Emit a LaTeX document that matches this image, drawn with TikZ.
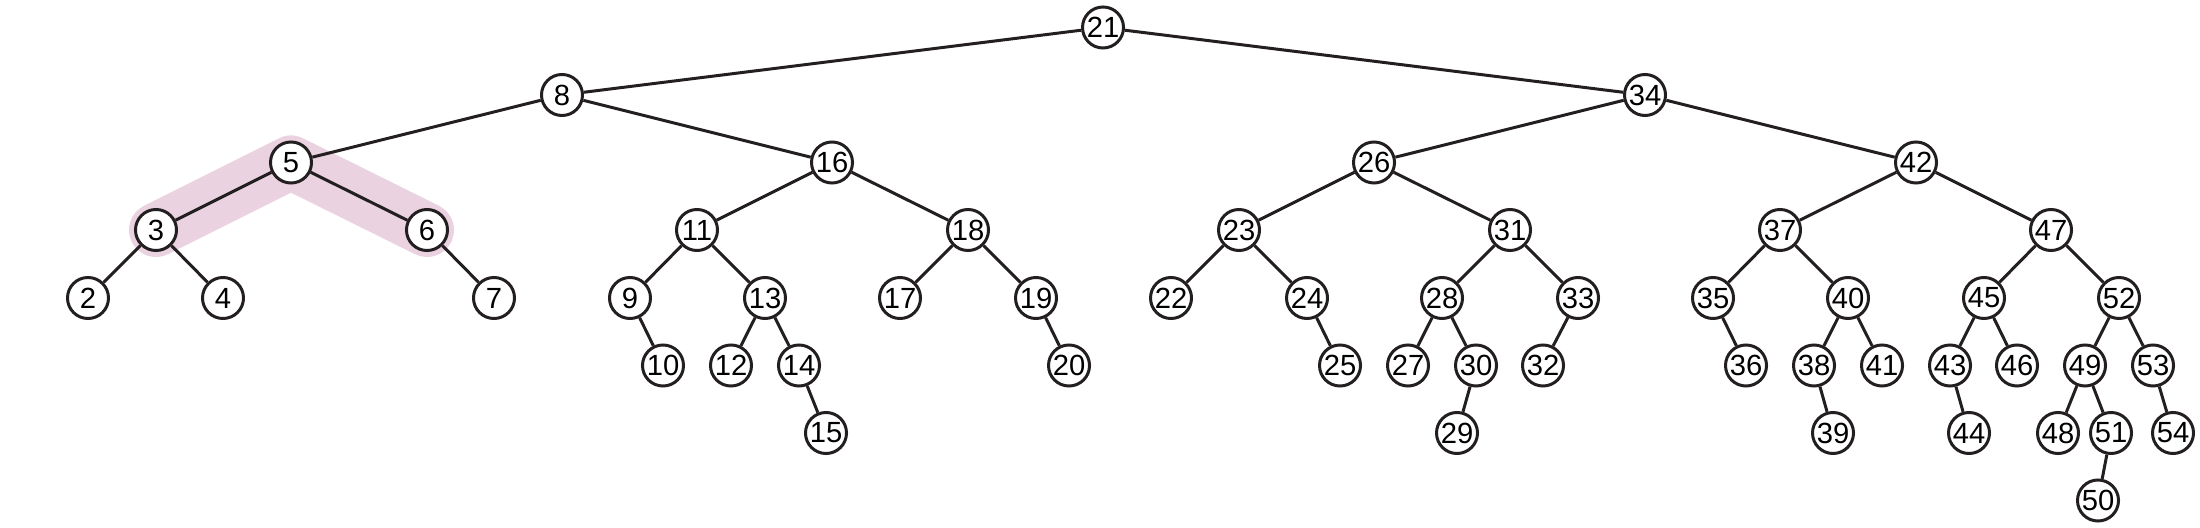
\documentclass[tikz,border=0pt]{standalone}
\usepackage{fontspec}
\setmainfont{Liberation Sans}
\usetikzlibrary{backgrounds}
\definecolor{ink}{RGB}{35,31,32}
\definecolor{blush}{RGB}{234,210,224}

\begin{document}
\begin{tikzpicture}[x=0.01cm, y=-0.01cm,
  key/.style={circle, draw=ink, line width=0.85pt, fill=white, minimum size=0.41cm, inner sep=0pt, font=\fontsize{8.3}{8.3}\selectfont},
  link/.style={draw=ink, line width=0.85pt},
  trail/.style={draw=blush, line width=0.54cm, line cap=round, line join=round}]
  \useasboundingbox (0,0) rectangle (2200,528);

  \node[key] (n21) at (1103,27.5) {21};

  \node[key] (n8)  at (562,95) {8};
  \node[key] (n34) at (1645,95) {34};

  \node[key] (n5)  at (291,162.5) {5};
  \node[key] (n16) at (832,162.5) {16};
  \node[key] (n26) at (1374,162.5) {26};
  \node[key] (n42) at (1916,162.5) {42};

  \node[key] (n3)  at (156,230) {3};
  \node[key] (n6)  at (427,230) {6};
  \node[key] (n11) at (697,230) {11};
  \node[key] (n18) at (968,230) {18};
  \node[key] (n23) at (1239,230) {23};
  \node[key] (n31) at (1510,230) {31};
  \node[key] (n37) at (1780,230) {37};
  \node[key] (n47) at (2051,230) {47};

  \node[key] (n2)  at (88,298) {2};
  \node[key] (n4)  at (223,298) {4};
  \node[key] (n7)  at (494,298) {7};
  \node[key] (n9)  at (630,298) {9};
  \node[key] (n13) at (765,298) {13};
  \node[key] (n17) at (900,298) {17};
  \node[key] (n19) at (1036,298) {19};
  \node[key] (n22) at (1171,298) {22};
  \node[key] (n24) at (1307,298) {24};
  \node[key] (n28) at (1442,298) {28};
  \node[key] (n33) at (1578,298) {33};
  \node[key] (n35) at (1713,298) {35};
  \node[key] (n40) at (1848,298) {40};
  \node[key] (n45) at (1984,298) {45};
  \node[key] (n52) at (2119,298) {52};

  \node[key] (n10) at (663,365.5) {10};
  \node[key] (n12) at (731,365.5) {12};
  \node[key] (n14) at (799,365.5) {14};
  \node[key] (n20) at (1069,365.5) {20};
  \node[key] (n25) at (1340,365.5) {25};
  \node[key] (n27) at (1408,365.5) {27};
  \node[key] (n30) at (1476,365.5) {30};
  \node[key] (n32) at (1543,365.5) {32};
  \node[key] (n36) at (1746,365.5) {36};
  \node[key] (n38) at (1814,365.5) {38};
  \node[key] (n41) at (1882,365.5) {41};
  \node[key] (n43) at (1950,365.5) {43};
  \node[key] (n46) at (2017,365.5) {46};
  \node[key] (n49) at (2085,365.5) {49};
  \node[key] (n53) at (2153,365.5) {53};

  \node[key] (n15) at (826,433) {15};
  \node[key] (n29) at (1457,433) {29};
  \node[key] (n39) at (1833,433) {39};
  \node[key] (n44) at (1969,433) {44};
  \node[key] (n48) at (2058,433) {48};
  \node[key] (n51) at (2111,433) {51};
  \node[key] (n54) at (2173,433) {54};

  \node[key] (n50) at (2098,500.5) {50};

  \draw[link] (n21) -- (n8);
  \draw[link] (n21) -- (n34);
  \draw[link] (n8) -- (n5);
  \draw[link] (n8) -- (n16);
  \draw[link] (n5) -- (n3);
  \draw[link] (n5) -- (n6);
  \draw[link] (n3) -- (n2);
  \draw[link] (n3) -- (n4);
  \draw[link] (n6) -- (n7);
  \draw[link] (n16) -- (n11);
  \draw[link] (n16) -- (n18);
  \draw[link] (n11) -- (n9);
  \draw[link] (n11) -- (n13);
  \draw[link] (n9) -- (n10);
  \draw[link] (n13) -- (n12);
  \draw[link] (n13) -- (n14);
  \draw[link] (n14) -- (n15);
  \draw[link] (n18) -- (n17);
  \draw[link] (n18) -- (n19);
  \draw[link] (n19) -- (n20);
  \draw[link] (n34) -- (n26);
  \draw[link] (n34) -- (n42);
  \draw[link] (n26) -- (n23);
  \draw[link] (n26) -- (n31);
  \draw[link] (n23) -- (n22);
  \draw[link] (n23) -- (n24);
  \draw[link] (n24) -- (n25);
  \draw[link] (n31) -- (n28);
  \draw[link] (n31) -- (n33);
  \draw[link] (n28) -- (n27);
  \draw[link] (n28) -- (n30);
  \draw[link] (n30) -- (n29);
  \draw[link] (n33) -- (n32);
  \draw[link] (n42) -- (n37);
  \draw[link] (n42) -- (n47);
  \draw[link] (n37) -- (n35);
  \draw[link] (n37) -- (n40);
  \draw[link] (n35) -- (n36);
  \draw[link] (n40) -- (n38);
  \draw[link] (n40) -- (n41);
  \draw[link] (n38) -- (n39);
  \draw[link] (n47) -- (n45);
  \draw[link] (n47) -- (n52);
  \draw[link] (n45) -- (n43);
  \draw[link] (n45) -- (n46);
  \draw[link] (n43) -- (n44);
  \draw[link] (n52) -- (n49);
  \draw[link] (n52) -- (n53);
  \draw[link] (n49) -- (n48);
  \draw[link] (n49) -- (n51);
  \draw[link] (n51) -- (n50);
  \draw[link] (n53) -- (n54);

  \begin{pgfonlayer}{background}
    \draw[trail] (n3.center) -- (n5.center) -- (n6.center);
  \end{pgfonlayer}
\end{tikzpicture}
\end{document}
